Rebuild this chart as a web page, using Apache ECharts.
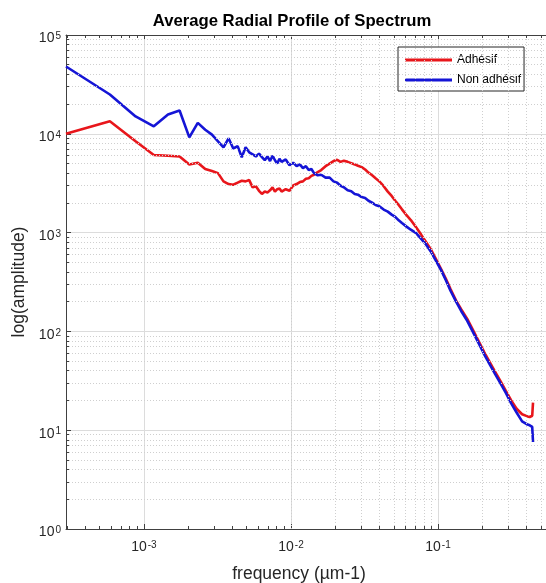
<!DOCTYPE html>
<html><head><meta charset="utf-8">
<script src="https://cdn.jsdelivr.net/npm/echarts@6/dist/echarts.min.js"></script>
<style>html,body{margin:0;padding:0;background:#fff}#c{width:546px;height:583px}</style>
</head><body><div id="c"></div>
<script>
// frequency (µm-1)
const freq = [
 0.000295,0.0005864,0.0008772,0.001167,0.001457,0.001747,0.002035,0.002323,0.002611,0.0029,
 0.003188,0.003475,0.003763,0.00405,0.004337,0.004626,0.004912,0.005199,0.005485,0.005772,
 0.006058,0.006345,0.006632,0.006918,0.007204,0.00749,0.007777,0.008063,0.00835,0.008635,
 0.009206,0.009777,0.01035,0.01092,0.01149,0.01206,0.01263,0.0132,0.01377,0.01434,
 0.0152,0.01605,0.01719,0.01832,0.01946,0.02061,0.02174,0.02287,0.02429,0.0257,0.02713,0.02854,
 0.03024,0.03194,0.03365,0.03563,0.03761,0.03987,0.0427,0.04553,0.04837,0.05119,0.05401,0.05683,
 0.06106,0.0653,0.07093,0.07656,0.0822,0.08923,0.09625,0.1047,0.1131,0.1216,0.1327,0.144,0.158,
 0.172,0.1888,0.2056,0.2252,0.2447,0.2672,0.2893,0.3146,0.3423,0.3731,0.4064,0.4204,0.4315,0.4371,0.4413,0.4427
];
// average radial profile, adhesive
const adhesif = [
 10000,13400,8400,6100,6000,5900,4900,5100,4400,4200,
 4000,3300,3100,3050,3200,3350,3300,3400,2870,2950,
 2650,2460,2600,2550,2680,2870,2600,2750,2800,2600,
 2750,2650,3000,3100,3250,3300,3500,3550,3750,3850,
 4100,4300,4700,5000,5300,5450,5200,5350,5200,5050,4900,4750,
 4600,4350,4050,3800,3550,3300,2950,2600,2350,2100,1900,1720,
 1500,1340,1130,960,820,680,550,430,340,268,205,167,134,
 105,80,62,48.5,39,31,25,20,16.5,14.5,13.8,13.6,13.7,14,14.2,19
];
// average radial profile, non adhesive
const nonAdhesif = [
 48000,25000,15000,11900,15700,17200,9200,12900,11000,9800,
 8400,7300,9000,7100,7500,5800,7300,6500,6200,5900,
 6300,5800,5400,5900,5300,6000,5400,5000,5600,5200,
 5500,4800,5100,4700,4900,4500,4700,4300,4400,4000,
 3800,3850,3600,3600,3300,3200,2980,2880,2680,2620,2460,2420,
 2290,2240,2100,2010,1900,1850,1710,1630,1520,1440,1330,1250,
 1150,1070,990,870,770,645,527,420,329,258,200,160,128,
 100,76,59,46,37,29.5,23.8,18.7,15.1,12.3,11.4,11.2,11,10.8,10.5,7.6
];
const seriesNames = ['Adhésif', 'Non adhésif'];
const seriesColors = ['#e8161b', '#1515d6'];
const titleText = 'Average Radial Profile of Spectrum';
const xName = 'frequency (\u00b5m-1)';
const yName = 'log(amplitude)';
const X_MIN = 0.000295, X_MAX = 0.5425, Y_MIN = 1, Y_MAX = 100000;

const FONT = '"Liberation Sans", Arial, Helvetica, sans-serif';
const pairs = vals => freq.map((f, i) => [f, vals[i]]);

function supLabel(v) {
  const l = Math.log10(v), e = Math.round(l);
  if (Math.abs(l - e) > 1e-6) return '';
  return '{b|10}{s|' + e + '}';
}
const rich = {
  b: { fontSize: 14, fontFamily: FONT, color: '#262626', lineHeight: 14, verticalAlign: 'bottom' },
  s: { fontSize: 10, fontFamily: FONT, color: '#262626', lineHeight: 10, verticalAlign: 'top', padding: [0, 0, 7, 1] }
};

// minor grid positions (2..9 per decade)
const xMinor = [], yMinor = [];
for (let e = -4; e <= 0; e++) for (let m = 2; m <= 9; m++) { const v = m * Math.pow(10, e); if (v > X_MIN && v < X_MAX) xMinor.push(v); }
for (let e = 0; e < 5; e++) for (let m = 2; m <= 9; m++) yMinor.push(m * Math.pow(10, e));

const minorGrid = [];
xMinor.forEach(v => minorGrid.push({ xAxis: v }));
yMinor.forEach(v => minorGrid.push({ yAxis: v }));

const tx = Math.pow(10, 3 / 147), ty = Math.pow(10, 3 / 98.8);
const minorTicks = [];
xMinor.forEach(v => {
  minorTicks.push([{ coord: [v, Y_MIN] }, { coord: [v, Y_MIN * ty] }]);
  minorTicks.push([{ coord: [v, Y_MAX] }, { coord: [v, Y_MAX / ty] }]);
});
yMinor.forEach(v => minorTicks.push([{ coord: [X_MIN, v] }, { coord: [X_MIN * tx, v] }]));

const axisCol = '#404040';
const chart = echarts.init(document.getElementById('c'), null, { renderer: 'canvas' });
chart.setOption({
  animation: false,
  backgroundColor: '#fff',
  title: {
    text: titleText, left: 287, top: 8, textAlign: 'center',
    textStyle: { fontFamily: FONT, fontSize: 16.7, fontWeight: 'bold', color: '#000' }
  },
  legend: {
    data: seriesNames, orient: 'vertical', left: 398, top: 47,
    backgroundColor: '#fff', borderColor: '#262626', borderWidth: 1,
    padding: [7, 3, 5, 7], itemGap: 8, itemWidth: 47, itemHeight: 3, icon: 'rect',
    textStyle: { fontFamily: FONT, fontSize: 12, color: '#000' }
  },
  grid: { left: 66, right: 0, top: 35, bottom: 54, containLabel: false, outerBoundsMode: 'none' },
  xAxis: [{
    type: 'log', min: X_MIN, max: X_MAX, splitNumber: 3, position: 'bottom',
    axisLine: { show: true, lineStyle: { color: axisCol, width: 1 } },
    axisTick: { show: true, inside: true, length: 5, lineStyle: { color: axisCol } },
    axisLabel: { formatter: supLabel, rich: rich, margin: 11, showMinLabel: false, showMaxLabel: false },
    splitLine: { show: true, lineStyle: { color: '#dcdcdc', width: 1 } },
    name: xName, nameLocation: 'middle', nameGap: 36,
    nameTextStyle: { fontFamily: FONT, fontSize: 17.5, color: '#262626', padding: [0, 14, 0, 0] }
  }, {
    type: 'log', min: X_MIN, max: X_MAX, splitNumber: 3, position: 'top',
    axisLine: { show: true, onZero: false, lineStyle: { color: axisCol, width: 1 } },
    axisTick: { show: true, inside: true, length: 5, lineStyle: { color: axisCol } },
    axisLabel: { show: false }, splitLine: { show: false }
  }],
  yAxis: {
    type: 'log', min: Y_MIN, max: Y_MAX, position: 'left',
    axisLine: { show: true, lineStyle: { color: axisCol, width: 1 } },
    axisTick: { show: true, inside: true, length: 5, lineStyle: { color: axisCol } },
    axisLabel: { formatter: supLabel, rich: rich, margin: 5, padding: [7, 0, 0, 0] },
    splitLine: { show: true, lineStyle: { color: '#dcdcdc', width: 1 } },
    name: yName, nameLocation: 'middle', nameGap: 34, nameRotate: 90,
    nameTextStyle: { fontFamily: FONT, fontSize: 17.5, color: '#262626' }
  },
  series: [{
    name: '_grid', type: 'line', data: [], silent: true, z: 1,
    markLine: {
      silent: true, symbol: ['none', 'none'], label: { show: false }, animation: false,
      lineStyle: { color: '#cfcfcf', type: [1, 2], width: 1 },
      data: minorGrid
    }
  }, {
    name: '_ticks', type: 'line', data: [], silent: true, z: 1,
    markLine: {
      silent: true, symbol: ['none', 'none'], label: { show: false }, animation: false,
      lineStyle: { color: axisCol, type: 'solid', width: 1 },
      data: minorTicks
    }
  }, {
    name: seriesNames[0], type: 'line', data: pairs(adhesif), showSymbol: false, z: 3,
    lineStyle: { color: seriesColors[0], width: 2.6 }, itemStyle: { color: seriesColors[0] }
  }, {
    name: seriesNames[1], type: 'line', data: pairs(nonAdhesif), showSymbol: false, z: 4,
    lineStyle: { color: seriesColors[1], width: 2.6 }, itemStyle: { color: seriesColors[1] }
  }]
});
</script></body></html>
